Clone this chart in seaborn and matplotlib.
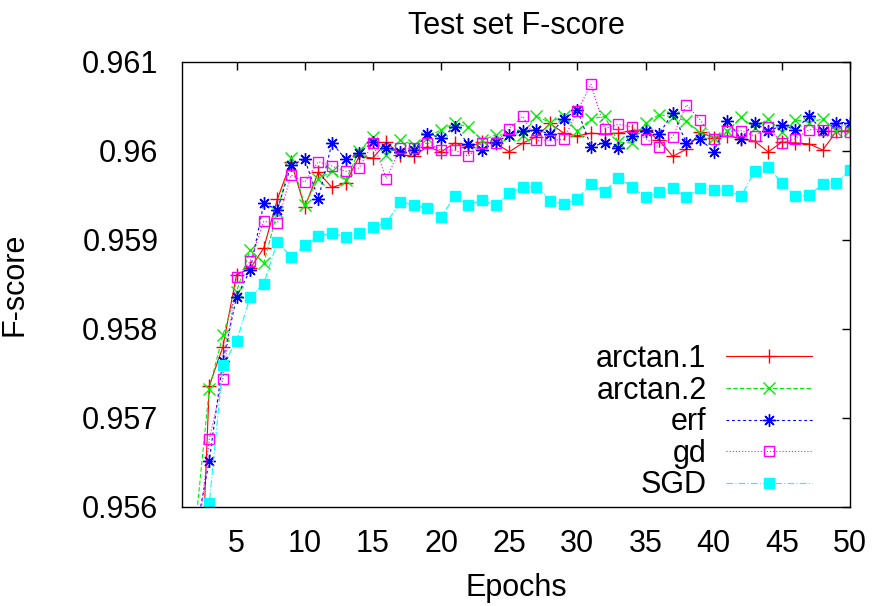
import numpy as np
import pandas as pd
import matplotlib
matplotlib.use("Agg")
import matplotlib.pyplot as plt
import seaborn as sns

# ── data ──
epochs = list(range(2, 51))

arctan1 = [0.95350, 0.95736, 0.95780, 0.95861, 0.95868, 0.95891, 0.95946, 0.95988, 0.95937, 0.95976,
           0.95959, 0.95964, 0.95994, 0.95992, 0.96010, 0.95996, 0.95994, 0.96005, 0.95999, 0.96009,
           0.96004, 0.96010, 0.96009, 0.95999, 0.96009, 0.96016, 0.96031, 0.96020, 0.96017, 0.96020,
           0.96019, 0.96020, 0.96023, 0.96024, 0.96012, 0.95994, 0.96002, 0.96021, 0.96015, 0.96017,
           0.96014, 0.96011, 0.95999, 0.96010, 0.96009, 0.96008, 0.96001, 0.96022, 0.96023]

arctan2 = [0.95580, 0.95733, 0.95793, 0.95842, 0.95889, 0.95874, 0.95932, 0.95992, 0.95939, 0.95969,
           0.95977, 0.95967, 0.96000, 0.96016, 0.95996, 0.96012, 0.96007, 0.96015, 0.96024, 0.96031,
           0.96027, 0.96012, 0.96018, 0.96018, 0.96018, 0.96039, 0.96032, 0.96039, 0.96022, 0.96036,
           0.96039, 0.96010, 0.96009, 0.96031, 0.96041, 0.96038, 0.96034, 0.96020, 0.96015, 0.96022,
           0.96038, 0.96026, 0.96036, 0.96021, 0.96035, 0.96032, 0.96036, 0.96023, 0.96024]

erf = [0.95570, 0.95652, 0.95764, 0.95836, 0.95866, 0.95941, 0.95934, 0.95984, 0.95991, 0.95946,
       0.96009, 0.95991, 0.95998, 0.96010, 0.96003, 0.95999, 0.96001, 0.96019, 0.96015, 0.96027,
       0.96008, 0.96001, 0.96010, 0.96018, 0.96022, 0.96024, 0.96019, 0.96036, 0.96046, 0.96005,
       0.96009, 0.96003, 0.96017, 0.96023, 0.96019, 0.96043, 0.96009, 0.96014, 0.95999, 0.96034,
       0.96014, 0.96032, 0.96022, 0.96029, 0.96024, 0.96039, 0.96023, 0.96032, 0.96032]

gd = [0.95540, 0.95676, 0.95744, 0.95858, 0.95876, 0.95921, 0.95919, 0.95973, 0.95965, 0.95988,
      0.95983, 0.95977, 0.95981, 0.96009, 0.95969, 0.96003, 0.96003, 0.96009, 0.96001, 0.96001,
      0.95994, 0.96009, 0.96009, 0.96025, 0.96039, 0.96012, 0.96012, 0.96013, 0.96045, 0.96075,
      0.96025, 0.96030, 0.96027, 0.96014, 0.96004, 0.96016, 0.96052, 0.96035, 0.96014, 0.96022,
      0.96023, 0.96017, 0.96027, 0.96009, 0.96014, 0.96024, 0.96024, 0.96021, 0.96021]

sgd = [0.95500, 0.95604, 0.95760, 0.95786, 0.95836, 0.95851, 0.95898, 0.95881, 0.95894, 0.95904,
       0.95908, 0.95903, 0.95908, 0.95915, 0.95919, 0.95943, 0.95939, 0.95936, 0.95926, 0.95949,
       0.95939, 0.95945, 0.95939, 0.95953, 0.95959, 0.95960, 0.95944, 0.95940, 0.95946, 0.95963,
       0.95954, 0.95970, 0.95960, 0.95948, 0.95954, 0.95958, 0.95948, 0.95958, 0.95956, 0.95956,
       0.95949, 0.95977, 0.95982, 0.95964, 0.95949, 0.95950, 0.95963, 0.95964, 0.95979]

series_names = ["arctan.1", "arctan.2", "erf", "gd", "SGD"]
series_vals = [arctan1, arctan2, erf, gd, sgd]

x_ticks = list(range(5, 51, 5))
y_ticks = [0.956, 0.957, 0.958, 0.959, 0.960, 0.961]

# ── styles (gnuplot-ish) ──
styles = {
    "arctan.1": dict(color="#ff0000", marker="+", linestyle="-", mfc="none", ms=9.5),
    "arctan.2": dict(color="#00ee00", marker="x", linestyle=(0, (4, 2)), mfc="none", ms=8),
    "erf":      dict(color="#0000ff", marker=(8, 2, 0), linestyle=(0, (2.5, 2.5)), mfc="none", ms=9),
    "gd":       dict(color="#ff00ff", marker="s", linestyle=(0, (1, 1.8)), mfc="none", ms=7.5),
    "SGD":      dict(color="#00ffff", marker="s", linestyle=(0, (6, 2, 1, 2)), mfc="#00ffff", ms=7),
}

sns.set_style("white")
plt.rcParams["font.family"] = ["Liberation Sans", "DejaVu Sans"]
plt.rcParams["text.color"] = "black"
plt.rcParams["axes.labelcolor"] = "black"
FS = 22

fig = plt.figure(figsize=(8.72, 6.06), dpi=100)
ax = fig.add_axes([0.2087, 0.1634, 0.7661, 0.7343])

for name, vals in zip(series_names, series_vals):
    st = styles[name]
    df = pd.DataFrame({"epoch": epochs, "f": vals})
    sns.lineplot(data=df, x="epoch", y="f", ax=ax, label=name,
                 color=st["color"], linestyle=st["linestyle"], linewidth=0.8,
                 marker=st["marker"], markersize=st["ms"],
                 markerfacecolor=st["mfc"], markeredgecolor=st["color"],
                 markeredgewidth=1.0)

ax.set_xlim(1, 50)
ax.set_ylim(0.956, 0.961)
ax.set_xticks(x_ticks)
ax.set_yticks(y_ticks)
ax.set_yticklabels([f"{v:g}" for v in y_ticks])

ax.tick_params(direction="in", top=True, right=True, length=6, width=1.0,
               labelsize=FS, colors="black")
ax.tick_params(axis="y", pad=17)
ax.tick_params(axis="x", pad=16)
for sp in ax.spines.values():
    sp.set_visible(True)
    sp.set_color("black")
    sp.set_linewidth(1.0)

ax.set_title("Test set F-score", fontsize=FS, pad=20, color="black")
ax.set_xlabel("Epochs", fontsize=FS, labelpad=10, color="black")
ax.set_ylabel("F-score", fontsize=FS, labelpad=38, color="black")

leg = ax.legend(loc="lower right", bbox_to_anchor=(0.943, 0.015), frameon=False,
                markerfirst=False, fontsize=FS, handlelength=2.8, handletextpad=0.65,
                labelspacing=0.05, borderpad=0, borderaxespad=0, numpoints=1)
for t in leg.get_texts():
    t.set_color("black")

fig.savefig("out.png", dpi=100)
